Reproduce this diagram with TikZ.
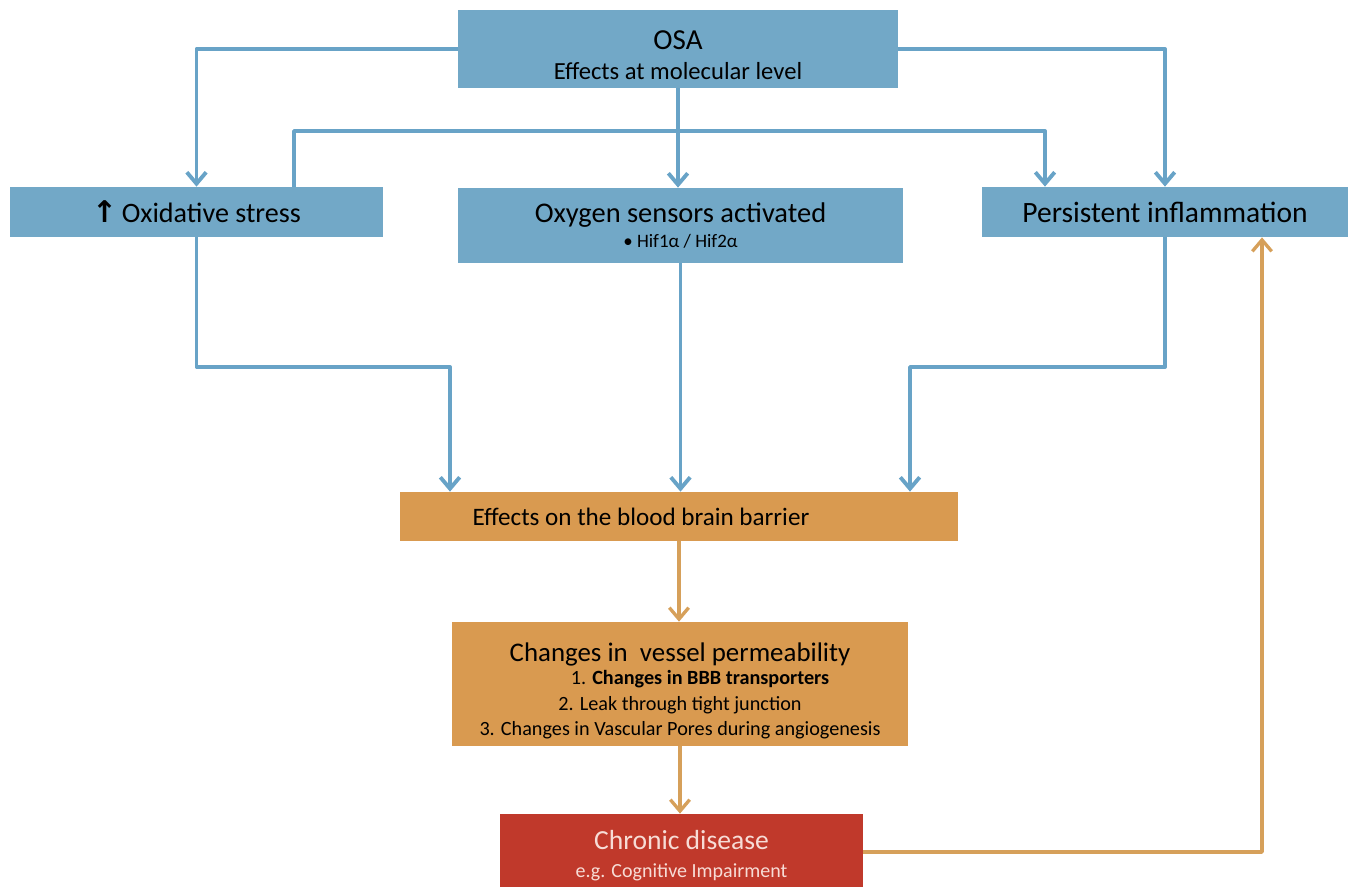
\documentclass[tikz,border=0pt]{standalone}
\usepackage{fontspec}
\setmainfont{Carlito}
\newfontfamily\symfont{DejaVu Sans}
\usetikzlibrary{arrows.meta}
\definecolor{boxblue}{RGB}{114,168,199}
\definecolor{lineblue}{RGB}{104,163,199}
\definecolor{boxorange}{RGB}{217,154,80}
\definecolor{lineorange}{RGB}{214,160,90}
\definecolor{boxred}{RGB}{192,57,43}
\definecolor{pinktext}{RGB}{247,220,214}
\newcommand{\fs}[2]{\fontsize{#1}{#2}\selectfont}
\begin{document}
\begin{tikzpicture}[x=0.02cm,y=-0.02cm,
  bluebox/.style={fill=boxblue, inner sep=0pt, align=center, text=black},
  orangebox/.style={fill=boxorange, inner sep=0pt, align=center, text=black},
  redbox/.style={fill=boxred, inner sep=0pt, align=center, text=pinktext},
  lbl/.style={inner sep=0pt, align=center},
  blueconn/.style={draw=lineblue, line width=2.2pt, line join=round,
    -{Straight Barb[length=6.5pt,width=11pt,line width=2.2pt]}},
  orangeconn/.style={draw=lineorange, line width=1.9pt, line join=round,
    -{Straight Barb[length=6.5pt,width=11pt,line width=1.9pt]}}]
\useasboundingbox (0,0) rectangle (1355,886);

\node[bluebox, minimum width=8.8cm, minimum height=1.56cm] (osa) at (678,49) {};
\node[lbl] (osat) at (678,55)
  {\fs{16.5}{18}OSA\\[5pt]\fs{14}{16}Effects at molecular level};
\node[bluebox, minimum width=7.46cm, minimum height=1.0cm] (oxi) at (196.5,212)
  {\fs{16}{18}{\symfont\bfseries\fs{17}{18}↑}\,Oxidative stress};
\node[bluebox, minimum width=8.9cm, minimum height=1.5cm] (oxy) at (680.5,225.5)
  {\fs{16.2}{18}Oxygen sensors activated\\[2.5pt]\fs{10.8}{12}• Hif1α / Hif2α};
\node[bluebox, minimum width=7.32cm, minimum height=1.0cm] (infl) at (1165,212)
  {\fs{16.8}{18}Persistent inflammation};
\node[orangebox, minimum width=11.16cm, minimum height=0.98cm] (bbb) at (679,516.5) {};
\node[lbl] (bbbt) at (641,517) {\fs{14.3}{16}Effects on the blood brain barrier};
\node[orangebox, minimum width=9.12cm, minimum height=2.48cm] (chg) at (680,684) {};
\node[lbl] (chgt) at (680,691)
  {\fs{15.3}{17}Changes in\ \ vessel permeability\\[1.5pt]
   \fs{11.5}{14}\hspace*{0.8cm}1. \textbf{Changes in BBB transporters}\\[2.5pt]
   \fs{11.5}{14}2. Leak through tight junction\\[2.5pt]
   \fs{11.5}{14}3. Changes in Vascular Pores during angiogenesis};
\node[redbox, minimum width=7.26cm, minimum height=1.52cm] (chr) at (681.5,852) {};
\node[lbl, text=pinktext] (chrt) at (681.5,856)
  {\fs{15.7}{17}Chronic disease\\[4pt]\fs{11.4}{14}e.g. Cognitive Impairment};

\coordinate (c1) at (294,131);
\coordinate (c2) at (1045,131);
\coordinate (c3) at (450,367);
\coordinate (c4) at (910,367);
\coordinate (c5) at (1262,852);

\draw[blueconn] (osa.west) -| (oxi.north);
\draw[blueconn] (osa.east) -| (infl.north);
\draw[blueconn] (osa.south) -- (osa.south |- oxy.north);
\draw[blueconn] (c1 |- oxi.north) -- (c1) -- (c2) -- (c2 |- infl.north);
\draw[blueconn] (oxi.south) |- (c3) -- (c3 |- bbb.north);
\draw[blueconn] (oxy.south) -- (oxy.south |- bbb.north);
\draw[blueconn] (infl.south) |- (c4) -- (c4 |- bbb.north);
\draw[orangeconn] (bbb.south) -- (bbb.south |- chg.north);
\draw[orangeconn] (chg.south) -- (chg.south |- chr.north);
\draw[orangeconn] (chr.east) -- (c5) -- (c5 |- infl.south);
\end{tikzpicture}
\end{document}
